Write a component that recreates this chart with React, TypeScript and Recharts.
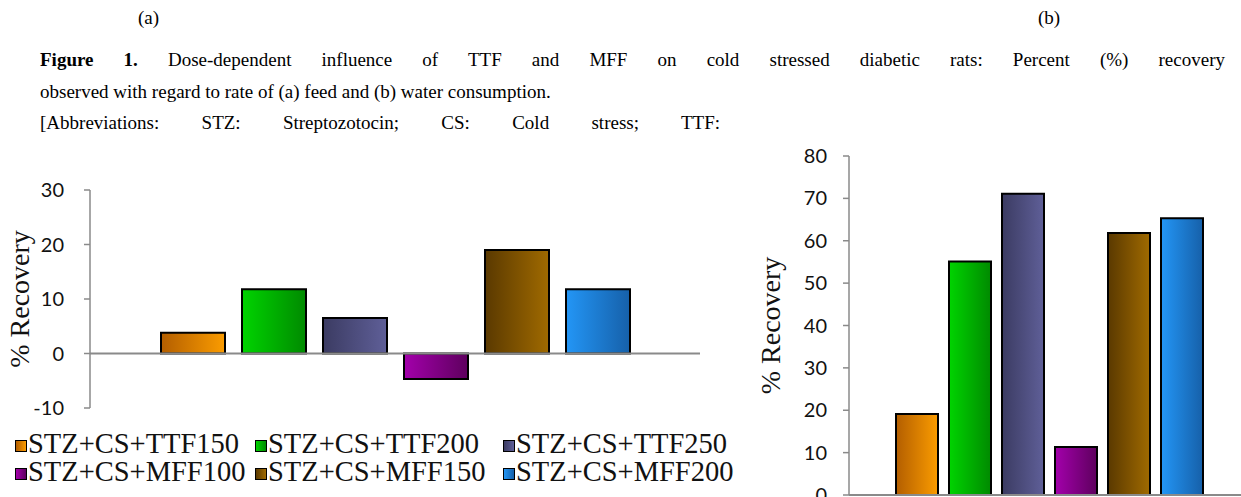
import React from 'react';
import { Bar, BarChart, ReferenceLine, XAxis, YAxis } from 'recharts';

// groups, in legend order
const groups = [
  'STZ+CS+TTF150',
  'STZ+CS+TTF200',
  'STZ+CS+TTF250',
  'STZ+CS+MFF100',
  'STZ+CS+MFF150',
  'STZ+CS+MFF200',
];

// (a) feed consumption, % recovery
const feedRecovery = [3.8, 11.8, 6.5, -4.7, 19.0, 11.8];
// (b) water consumption, % recovery
const waterRecovery = [19.1, 55.1, 71.1, 11.3, 61.8, 65.3];

const feedTicks = [-10, 0, 10, 20, 30];
const waterTicks = [0, 10, 20, 30, 40, 50, 60, 70, 80];

// left -> right gradient stops for each group
const gradients: [string, string][] = [
  ['#b35e00', '#fb9c00'],
  ['#00d400', '#008a00'],
  ['#3b3b62', '#5f5f98'],
  ['#a300ab', '#5e005e'],
  ['#5a3900', '#a06a00'],
  ['#2396f6', '#1660a9'],
];

const SERIF = '"Liberation Serif", "Times New Roman", serif';
const SANS = 'Lato, "Open Sans", sans-serif';
const AXIS_GREY = '#8a8a8a';

const toRow = (vals: number[]) => {
  const row: Record<string, number | string> = { name: 'g' };
  vals.forEach((v, i) => (row['s' + i] = v));
  return [row];
};

function Grads({ prefix }: { prefix: string }) {
  return (
    <defs>
      {gradients.map(([a, b], i) => (
        <linearGradient key={i} id={`${prefix}${i}`} x1="0" y1="0" x2="1" y2="0">
          <stop offset="0%" stopColor={a} />
          <stop offset="100%" stopColor={b} />
        </linearGradient>
      ))}
    </defs>
  );
}

const tickStyle = { fontFamily: SANS, fontSize: 20, fill: '#111' };
const labelStyle = { textAnchor: 'middle', fontFamily: SERIF, fontSize: 28, fill: '#111' };

function FeedChart() {
  return (
    <BarChart
      width={720}
      height={290}
      data={toRow(feedRecovery)}
      margin={{ top: 40, right: 20, bottom: 32, left: 0 }}
      barSize={64}
      barGap={17}
    >
      <Grads prefix="fg" />
      <XAxis dataKey="name" hide />
      <YAxis
        width={90}
        domain={[-10, 30]}
        ticks={feedTicks}
        interval={0}
        stroke={AXIS_GREY}
        strokeWidth={1.5}
        tickSize={6}
        tickMargin={20}
        tick={tickStyle}
        label={{ value: '% Recovery', angle: -90, position: 'insideLeft', offset: 19, style: labelStyle }}
      />
      <ReferenceLine y={0} stroke={AXIS_GREY} strokeWidth={2} />
      {groups.map((g, i) => (
        <Bar
          key={g}
          dataKey={'s' + i}
          name={g}
          fill={`url(#fg${i})`}
          stroke="#000"
          strokeWidth={2}
          isAnimationActive={false}
        />
      ))}
    </BarChart>
  );
}

function WaterChart() {
  return (
    <BarChart
      width={510}
      height={400}
      data={toRow(waterRecovery)}
      margin={{ top: 36, right: 0, bottom: 25, left: 0 }}
      barSize={42}
      barGap={11}
    >
      <Grads prefix="wg" />
      <XAxis dataKey="name" hide />
      <YAxis
        width={109}
        domain={[0, 80]}
        ticks={waterTicks}
        interval={0}
        stroke={AXIS_GREY}
        strokeWidth={1.5}
        tickSize={6}
        tickMargin={16}
        tick={tickStyle}
        label={{ value: '% Recovery', angle: -90, position: 'insideLeft', offset: 30, style: labelStyle }}
      />
      <ReferenceLine y={0} stroke={AXIS_GREY} strokeWidth={2} />
      {groups.map((g, i) => (
        <Bar
          key={g}
          dataKey={'s' + i}
          name={g}
          fill={`url(#wg${i})`}
          stroke="#000"
          strokeWidth={2}
          isAnimationActive={false}
        />
      ))}
    </BarChart>
  );
}

const legendCols = [15, 255, 503];
const legendRows = [431, 459];

function FeedLegend() {
  return (
    <>
      {groups.map((g, i) => (
        <div
          key={g}
          style={{
            position: 'absolute',
            left: legendCols[i % 3],
            top: legendRows[Math.floor(i / 3)],
            height: 26,
            display: 'flex',
            alignItems: 'center',
            fontFamily: SERIF,
            fontSize: 28.5,
            lineHeight: '26px',
            whiteSpace: 'nowrap',
            color: '#111',
          }}
        >
          <span
            style={{
              width: 10,
              height: 10,
              border: '1.5px solid #000',
              background: `linear-gradient(to right, ${gradients[i][0]}, ${gradients[i][1]})`,
              marginRight: 1,
              marginTop: 3,
            }}
          />
          {g}
        </div>
      ))}
    </>
  );
}

export default function App() {
  const txt: React.CSSProperties = {
    position: 'absolute',
    fontFamily: SERIF,
    fontSize: 19,
    lineHeight: '22px',
    color: '#000',
    whiteSpace: 'nowrap',
  };
  return (
    <div
      style={{
        position: 'absolute',
        left: 0,
        top: 0,
        width: 1241,
        height: 497,
        overflow: 'hidden',
        background: '#fff',
      }}
    >
      <div style={{ ...txt, left: 138, top: 7 }}>(a)</div>
      <div style={{ ...txt, left: 1038, top: 7 }}>(b)</div>
      <div
        style={{
          ...txt,
          left: 40,
          top: 49,
          width: 1185,
          whiteSpace: 'normal',
          textAlign: 'justify',
          textAlignLast: 'justify',
        }}
      >
        <b>Figure 1.</b> Dose-dependent influence of TTF and MFF on cold stressed diabetic rats: Percent (%) recovery
      </div>
      <div style={{ ...txt, left: 40, top: 81 }}>
        observed with regard to rate of (a) feed and (b) water consumption.
      </div>
      <div
        style={{
          ...txt,
          left: 40,
          top: 112,
          width: 680,
          whiteSpace: 'normal',
          textAlign: 'justify',
          textAlignLast: 'justify',
        }}
      >
        [Abbreviations: STZ: Streptozotocin; CS: Cold stress; TTF:
      </div>
      <div style={{ position: 'absolute', left: 0, top: 150 }}>
        <FeedChart />
      </div>
      <FeedLegend />
      <div style={{ position: 'absolute', left: 740, top: 120 }}>
        <WaterChart />
      </div>
    </div>
  );
}
